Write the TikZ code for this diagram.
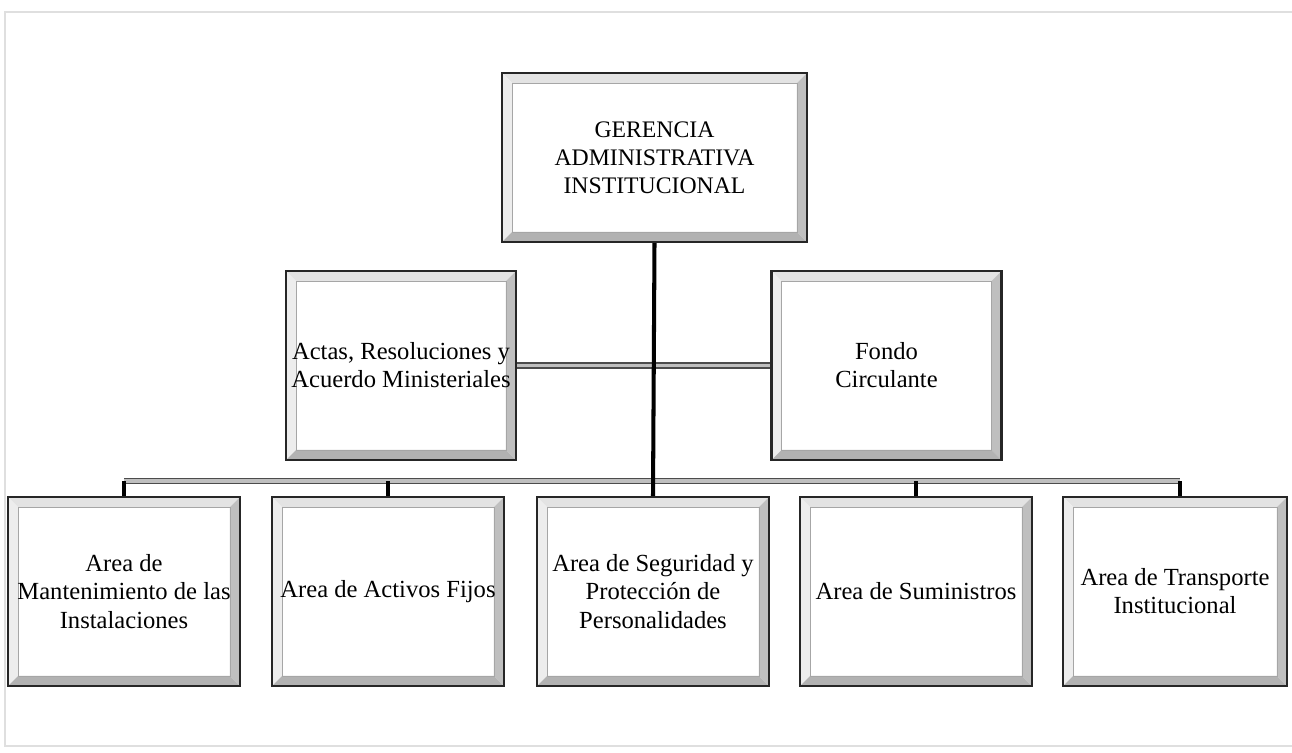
\documentclass[tikz,border=0pt]{standalone}
\usepackage{fontspec}
\setmainfont{Liberation Serif}
\usetikzlibrary{positioning}

\tikzset{
  bevelbox/.style={draw=black!85, line width=1.3pt, fill=white, inner sep=0pt,
    align=center, font=\fontsize{14}{16}\selectfont,
    path picture={
      \def\bw{0.2cm}
      \coordinate (nw) at (path picture bounding box.north west);
      \coordinate (ne) at (path picture bounding box.north east);
      \coordinate (sw) at (path picture bounding box.south west);
      \coordinate (se) at (path picture bounding box.south east);
      % top and left bevels (light), right and bottom bevels (dark)
      \fill[gray!22] (nw) -- (ne) -- ([shift={(-\bw,-\bw)}]ne) -- ([shift={(\bw,-\bw)}]nw) -- cycle;
      \fill[gray!14] (nw) -- (sw) -- ([shift={(\bw,\bw)}]sw) -- ([shift={(\bw,-\bw)}]nw) -- cycle;
      \fill[gray!50] (ne) -- (se) -- ([shift={(-\bw,\bw)}]se) -- ([shift={(-\bw,-\bw)}]ne) -- cycle;
      \fill[gray!60] (sw) -- (se) -- ([shift={(-\bw,\bw)}]se) -- ([shift={(\bw,\bw)}]sw) -- cycle;
      \draw[gray!70, line width=0.3pt] ([shift={(\bw,-\bw)}]nw) rectangle ([shift={(-\bw,\bw)}]se);
    }},
  topbox/.style={bevelbox, minimum width=6.1cm, minimum height=3.38cm, font=\fontsize{13.5}{16}\selectfont},
  midbox/.style={bevelbox, minimum width=4.6cm, minimum height=3.78cm},
  areabox/.style={bevelbox, minimum width=4.64cm, minimum height=3.78cm},
  bar/.style={draw=black!70, double=gray!50, double distance=2.2pt, line width=0.7pt},
  stem/.style={black, line width=2.3pt}
}

\begin{document}
\begin{tikzpicture}[x=0.02cm, y=-0.02cm]
  \useasboundingbox (0,0) rectangle (1292,752);
  % scanned page edge
  \draw[gray!25, line width=1pt] (1292,12) -- (5,12) -- (5,746) -- (1292,746);

  % boxes
  \node[topbox] (ger) at (654.5,157.5) {GERENCIA\\ ADMINISTRATIVA\\ INSTITUCIONAL};
  \node[midbox] (actas) at (401,365.5) {Actas, Resoluciones y\\ Acuerdo Ministeriales};
  \node[midbox] (fondo) at (886.5,365.5) {Fondo\\ Circulante};

  \node[areabox] (a-1) at (124,591.5) {Area de\\ Mantenimiento de las\\ Instalaciones};
  \node[areabox] (a-2) at (388,591.5) {Area de Activos Fijos};
  \node[areabox] (a-3) at (653,591.5) {Area de Seguridad y\\ Protecci\'on de\\ Personalidades};
  \node[areabox] (a-4) at (916,591.5) {Area de Suministros};
  \node[areabox, minimum width=4.48cm] (a-5) at (1175,591.5) {Area de Transporte\\ Institucional};

  % bus
  \coordinate (bus-1) at (124,481);
  \coordinate (bus-5) at (1180,481);
  \draw[bar] (bus-1) -- (bus-5);
  \draw[bar] (actas.east) -- (fondo.west);

  % stems
  \draw[stem] (ger.south) -- (a-3.north);
  \foreach \i in {1,2,4}
    \draw[stem] (bus-1 -| a-\i.north) -- (a-\i.north);
  \draw[stem] (bus-5) -- (bus-5 |- a-5.north);
\end{tikzpicture}
\end{document}
